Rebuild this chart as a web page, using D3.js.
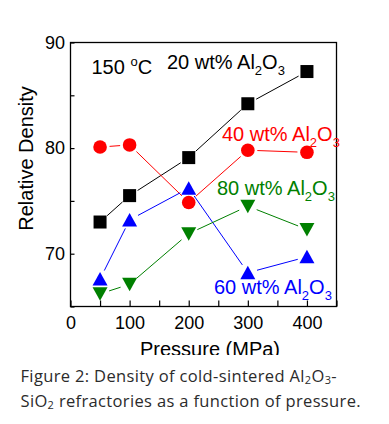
<!DOCTYPE html>
<html><head><meta charset="utf-8">
<script src="https://cdn.jsdelivr.net/npm/d3@7"></script>
<style>
html,body{margin:0;padding:0;background:#fff;}
svg{display:block;}
</style></head>
<body>
<script>
const pressures = [50, 100, 200, 300, 400];
const seriesNames = ["20 wt% Al2O3", "40 wt% Al2O3", "60 wt% Al2O3", "80 wt% Al2O3"];
const density20 = [73.0, 75.5, 79.1, 84.2, 87.25];
const density40 = [80.1, 80.3, 74.85, 79.8, 79.6];
const density60 = [67.6, 73.2, 76.2, 68.2, 69.7];
const density80 = [66.2, 67.1, 71.9, 74.5, 72.3];
const xTicks = [0, 50, 100, 150, 200, 250, 300, 350, 400, 450];
const xLabels = [0, 100, 200, 300, 400];
const yTicks = [65, 70, 75, 80, 85, 90];
const yLabels = [70, 80, 90];

const W = 389, H = 424;
const svg = d3.select("body").append("svg").attr("width", W).attr("height", H);
const FONT = "'Liberation Sans', Arial, sans-serif";

const x = d3.scaleLinear().domain([0, 450]).range([70.5, 336.5]);
const y = d3.scaleLinear().domain([65, 90]).range([306.5, 42.5]);

const series = [
  {name: seriesNames[0], values: density20, color: "#000000", shape: "square"},
  {name: seriesNames[1], values: density40, color: "#ff0000", shape: "circle"},
  {name: seriesNames[2], values: density60, color: "#0000ff", shape: "up"},
  {name: seriesNames[3], values: density80, color: "#008000", shape: "down"}
];

// axes
const gx = svg.append("g").attr("transform", `translate(0,${y(65)})`)
  .call(d3.axisBottom(x).tickValues(xTicks).tickSizeInner(-6).tickSizeOuter(0).tickPadding(14)
    .tickFormat(d => xLabels.includes(d) ? d : ""));
const gy = svg.append("g").attr("transform", `translate(${x(0)},0)`)
  .call(d3.axisLeft(y).tickValues(yTicks).tickSizeInner(-4).tickSizeOuter(0).tickPadding(6)
    .tickFormat(d => yLabels.includes(d) ? d : ""));
[gx, gy].forEach(g => {
  g.select(".domain").remove();
  g.selectAll("line").attr("stroke", "#000").attr("stroke-width", 1.2);
  g.selectAll("text").attr("font-family", FONT).attr("font-size", 18).attr("fill", "#000");
});
gx.selectAll("text").attr("dy", null).attr("y", 22.5);
gy.selectAll("text").attr("x", -5.5);

// frame
svg.append("rect").attr("x", x(0)).attr("y", y(90))
  .attr("width", x(450) - x(0)).attr("height", y(65) - y(90))
  .attr("fill", "none").attr("stroke", "#000").attr("stroke-width", 1.3);

// lines with gaps near markers
const gap = 9.5;
series.forEach(s => {
  const pts = pressures.map((p, i) => [x(p), y(s.values[i])]);
  for (let i = 0; i < pts.length - 1; i++) {
    const [x1, y1] = pts[i], [x2, y2] = pts[i + 1];
    const dx = x2 - x1, dy = y2 - y1, L = Math.hypot(dx, dy);
    if (L <= 2 * gap) continue;
    const ux = dx / L, uy = dy / L;
    svg.append("line")
      .attr("x1", x1 + ux * gap).attr("y1", y1 + uy * gap)
      .attr("x2", x2 - ux * gap).attr("y2", y2 - uy * gap)
      .attr("stroke", s.color).attr("stroke-width", 1);
  }
});

// markers
series.forEach(s => {
  const g = svg.append("g").attr("fill", s.color);
  pressures.forEach((p, i) => {
    const cx = x(p), cy = y(s.values[i]);
    if (s.shape === "square") {
      g.append("rect").attr("x", cx - 6.5).attr("y", cy - 6.5).attr("width", 13).attr("height", 13);
    } else if (s.shape === "circle") {
      g.append("circle").attr("cx", cx).attr("cy", cy).attr("r", 6.8);
    } else if (s.shape === "up") {
      g.append("path").attr("d", `M${cx},${cy - 7}L${cx + 7.5},${cy + 6.5}L${cx - 7.5},${cy + 6.5}Z`);
    } else {
      g.append("path").attr("d", `M${cx - 7.5},${cy - 6.5}L${cx + 7.5},${cy - 6.5}L${cx},${cy + 7}Z`);
    }
  });
});

// series labels with subscripts
function alLabel(xp, yp, prefix, color) {
  const t = svg.append("text").attr("x", xp).attr("y", yp)
    .attr("font-family", FONT).attr("font-size", 20).attr("fill", color);
  t.append("tspan").text(prefix + " Al");
  t.append("tspan").attr("font-size", 13).attr("dy", 6).text("2");
  t.append("tspan").attr("dy", -6).text("O");
  t.append("tspan").attr("font-size", 13).attr("dy", 6).text("3");
}
alLabel(167, 68.5, "20 wt%", "#000000");
alLabel(222, 141, "40 wt%", "#ff0000");
alLabel(217, 195, "80 wt%", "#008000");
alLabel(214, 293.5, "60 wt%", "#0000ff");

// temperature label
const tt = svg.append("text").attr("x", 91.5).attr("y", 73.5)
  .attr("font-family", FONT).attr("font-size", 20).attr("fill", "#000");
tt.append("tspan").text("150 ");
tt.append("tspan").attr("font-size", 13).attr("dy", -8).text("o");
tt.append("tspan").attr("dy", 8).text("C");

// axis titles
svg.append("text").attr("transform", "translate(33,158.5) rotate(-90)")
  .attr("text-anchor", "middle").attr("font-family", FONT).attr("font-size", 20)
  .attr("fill", "#000").text("Relative Density");

svg.append("clipPath").attr("id", "clipTop").append("rect")
  .attr("x", 0).attr("y", 0).attr("width", W).attr("height", 355);
svg.append("text").attr("x", 210).attr("y", 356).attr("text-anchor", "middle")
  .attr("clip-path", "url(#clipTop)")
  .attr("font-family", FONT).attr("font-size", 20).attr("fill", "#000").text("Pressure (MPa)");

// caption
const CF = "'Open Sans', sans-serif";
const c1 = svg.append("text").attr("x", 20.5).attr("y", 381.5)
  .attr("font-family", CF).attr("font-size", 16.5).attr("letter-spacing", 0.35).attr("fill", "#2b2b2b");
c1.append("tspan").text("Figure 2: Density of cold-sintered Al");
c1.append("tspan").attr("font-size", 11).attr("dy", 2).text("2");
c1.append("tspan").attr("dy", -2).text("O");
c1.append("tspan").attr("font-size", 11).attr("dy", 2).text("3");
c1.append("tspan").attr("dy", -2).text("-");
const c2 = svg.append("text").attr("x", 20.5).attr("y", 407)
  .attr("font-family", CF).attr("font-size", 16.5).attr("letter-spacing", 0.35).attr("fill", "#2b2b2b");
c2.append("tspan").text("SiO");
c2.append("tspan").attr("font-size", 11).attr("dy", 2).text("2");
c2.append("tspan").attr("dy", -2).text(" refractories as a function of pressure.");
</script>
</body></html>
